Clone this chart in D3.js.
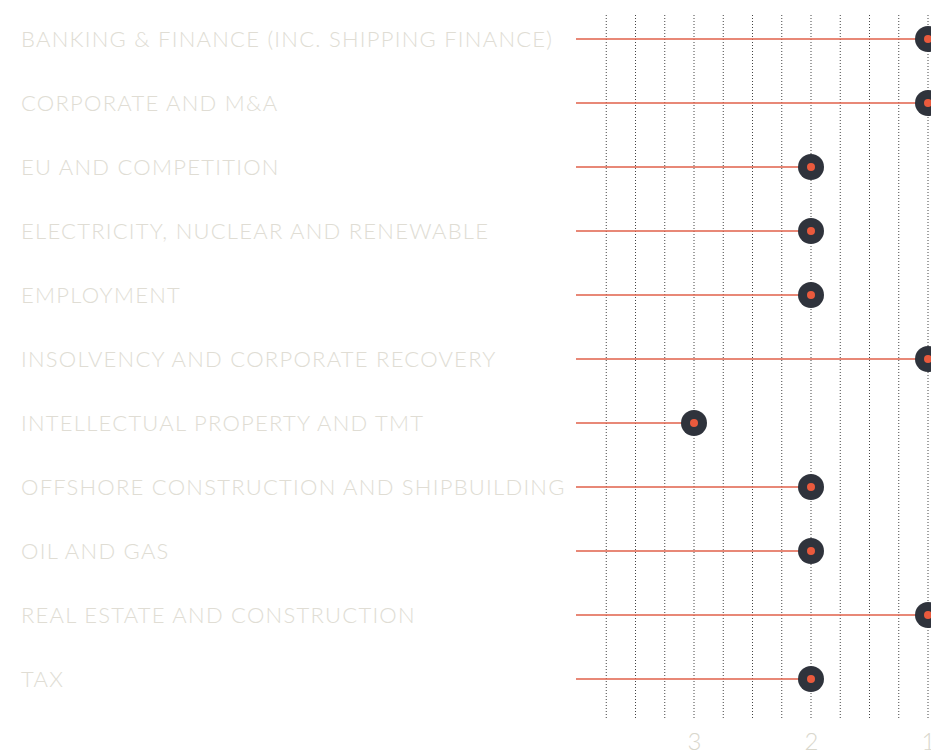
<!DOCTYPE html>
<html>
<head>
<meta charset="utf-8">
<script src="https://cdn.jsdelivr.net/npm/d3@7"></script>
<style>
  body { margin: 0; background: #fff; overflow: hidden; }
  text { font-family: Lato, "Open Sans", sans-serif; }
</style>
</head>
<body>
<div id="chart"></div>
<script>
// practice areas and their ranking (1 = top band)
const practices = [
    'BANKING & FINANCE (INC. SHIPPING FINANCE)',
    'CORPORATE AND M&A',
    'EU AND COMPETITION',
    'ELECTRICITY, NUCLEAR AND RENEWABLE',
    'EMPLOYMENT',
    'INSOLVENCY AND CORPORATE RECOVERY',
    'INTELLECTUAL PROPERTY AND TMT',
    'OFFSHORE CONSTRUCTION AND SHIPBUILDING',
    'OIL AND GAS',
    'REAL ESTATE AND CONSTRUCTION',
    'TAX'
];
const ranks = [1, 1, 2, 2, 2, 1, 3, 2, 2, 1, 2];
const tickValues = [3, 2, 1];
const gridValues = [3.75, 3.5, 3.25, 3, 2.75, 2.5, 2.25, 2, 1.75, 1.5, 1.25, 1];

const width = 931;
const height = 754;

const svg = d3.select('#chart')
    .append('svg')
    .attr('width', width)
    .attr('height', height);

const x = d3.scaleLinear().domain([4, 1]).range([577, 928]);
const y = d3.scaleBand().domain(practices).range([7, 711]);

// dotted grid
svg.append('g')
    .attr('class', 'grid')
    .selectAll('line')
    .data(gridValues)
    .join('line')
    .attr('x1', d => x(d))
    .attr('x2', d => x(d))
    .attr('y1', 15)
    .attr('y2', 720)
    .attr('stroke', '#444')
    .attr('stroke-width', 1)
    .attr('stroke-dasharray', '1,2');

// bottom axis labels
const xAxis = d3.axisBottom(x).tickValues(tickValues).tickSize(0).tickFormat(d3.format('d'));
const gx = svg.append('g')
    .attr('transform', 'translate(0, 750)')
    .call(xAxis);
gx.select('.domain').remove();
gx.selectAll('text')
    .attr('fill', '#d9d7cd')
    .attr('font-size', 24)
    .attr('font-weight', 300)
    .attr('y', 0)
    .attr('dy', 0);

// category labels
svg.append('g')
    .selectAll('text')
    .data(practices)
    .join('text')
    .attr('x', 21)
    .attr('y', d => y(d) + y.bandwidth() / 2)
    .attr('dy', '0.36em')
    .attr('fill', '#e0ddd4')
    .attr('font-size', 22)
    .attr('font-weight', 300)
    .attr('letter-spacing', 1.25)
    .text(d => d);

const rows = practices.map((p, i) => ({ name: p, rank: ranks[i] }));

// stems
svg.append('g')
    .selectAll('line')
    .data(rows)
    .join('line')
    .attr('x1', x(4) - 1)
    .attr('x2', d => x(d.rank))
    .attr('y1', d => y(d.name) + y.bandwidth() / 2)
    .attr('y2', d => y(d.name) + y.bandwidth() / 2)
    .attr('stroke', '#e0604a')
    .attr('stroke-width', 1.3);

// outer dark dots
svg.append('g')
    .selectAll('circle')
    .data(rows)
    .join('circle')
    .attr('cx', d => x(d.rank))
    .attr('cy', d => y(d.name) + y.bandwidth() / 2)
    .attr('r', 13)
    .attr('fill', '#2f333c');

// inner red dots
svg.append('g')
    .selectAll('circle')
    .data(rows)
    .join('circle')
    .attr('cx', d => x(d.rank))
    .attr('cy', d => y(d.name) + y.bandwidth() / 2)
    .attr('r', 4)
    .attr('fill', '#ea5a3d');
</script>
</body>
</html>
